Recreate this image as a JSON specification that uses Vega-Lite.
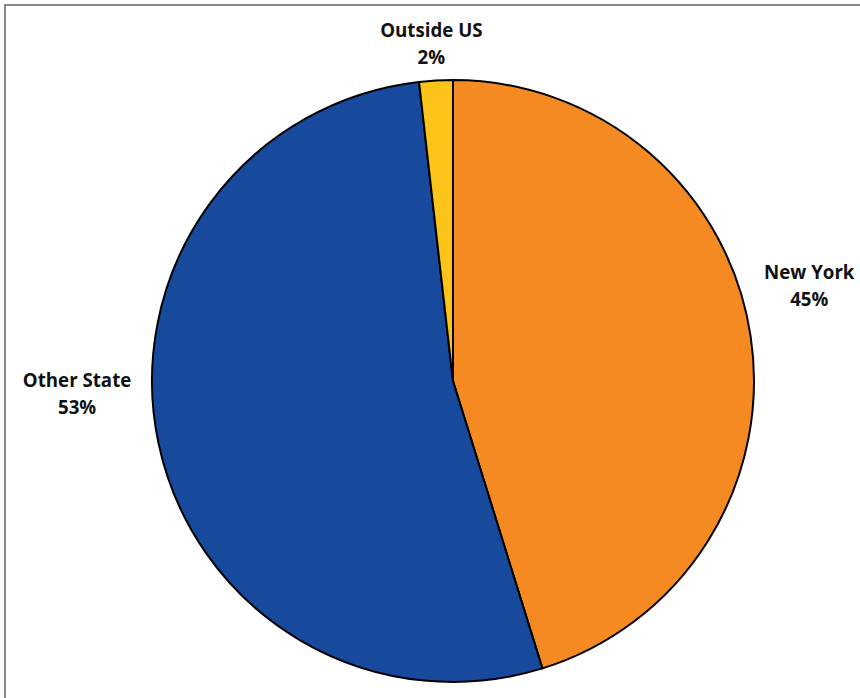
{
  "$schema": "https://vega.github.io/schema/vega-lite/v6.json",
  "width": 896,
  "height": 752,
  "autosize": {"type": "none"},
  "padding": {"left": 5, "top": 5, "right": 0, "bottom": 0},
  "background": "white",
  "view": {"stroke": "#8a8a8a", "strokeWidth": 2, "fill": "white"},
  "config": {"view": {"stroke": "#8a8a8a", "strokeWidth": 2}},
  "data": {
    "values": [
      {"category": "New York", "value": 45.2, "label": ["New York", "45%"]},
      {"category": "Other State", "value": 53.0, "label": ["Other State", "53%"]},
      {"category": "Outside US", "value": 1.8, "label": ["Outside US", "2%"]}
    ]
  },
  "transform": [
    {"stack": "value", "groupby": [], "sort": [{"field": "category", "order": "ascending"}], "as": ["v0", "v1"]},
    {"calculate": "(datum.v0 + datum.v1) / 2", "as": "mid"}
  ],
  "layer": [
    {
      "mark": {"type": "arc", "outerRadius": 301, "stroke": "black", "strokeWidth": 2},
      "encoding": {
        "theta": {"field": "v0", "type": "quantitative", "scale": {"domain": [0, 100]}},
        "theta2": {"field": "v1"},
        "color": {
          "field": "category", "type": "nominal", "legend": null,
          "scale": {"domain": ["New York", "Other State", "Outside US"], "range": ["#F58A22", "#174A9C", "#FCC419"]}
        }
      }
    },
    {
      "transform": [{"filter": "datum.category == 'New York'"}],
      "mark": {"type": "text", "radius": 330, "dx": 30, "dy": -58, "font": "Open Sans", "fontWeight": "bold", "fontSize": 18.7, "lineHeight": 27, "align": "center", "baseline": "middle", "color": "#111111"},
      "encoding": {
        "theta": {"field": "mid", "type": "quantitative", "scale": {"domain": [0, 100]}},
        "text": {"field": "label"}
      }
    },
    {
      "transform": [{"filter": "datum.category == 'Other State'"}],
      "mark": {"type": "text", "radius": 330, "dx": -53, "dy": -68, "font": "Open Sans", "fontWeight": "bold", "fontSize": 18.7, "lineHeight": 27, "align": "center", "baseline": "middle", "color": "#111111"},
      "encoding": {
        "theta": {"field": "mid", "type": "quantitative", "scale": {"domain": [0, 100]}},
        "text": {"field": "label"}
      }
    },
    {
      "transform": [{"filter": "datum.category == 'Outside US'"}],
      "mark": {"type": "text", "radius": 330, "dx": -3, "dy": -21, "font": "Open Sans", "fontWeight": "bold", "fontSize": 18.7, "lineHeight": 27, "align": "center", "baseline": "middle", "color": "#111111"},
      "encoding": {
        "theta": {"field": "mid", "type": "quantitative", "scale": {"domain": [0, 100]}},
        "text": {"field": "label"}
      }
    }
  ]
}
